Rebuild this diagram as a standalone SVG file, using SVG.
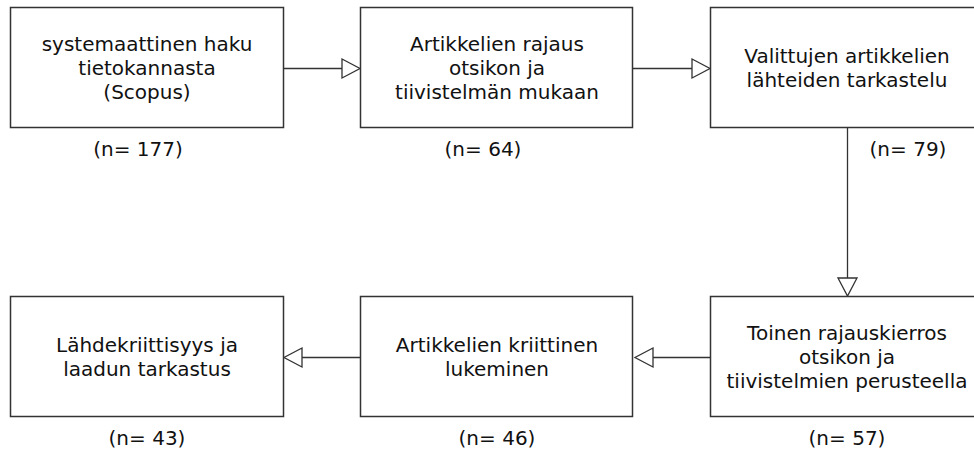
<svg xmlns="http://www.w3.org/2000/svg" width="974" height="450" viewBox="0 0 974 450">
<style>
.box{fill:#fff;stroke:#333;stroke-width:1.5}
.t{font-family:"DejaVu Sans",Verdana,sans-serif;font-size:20px;fill:#111;text-anchor:middle}
.edge{stroke:#333;stroke-width:1.3;fill:none}
.head{fill:#fff;stroke:#333;stroke-width:1.3}
</style>
<rect width="974" height="450" fill="#fff"/>
<g id="connectors">
<line class="edge" x1="283" y1="68.5" x2="342" y2="68.5"/>
<polygon class="head" points="342,59 360,68.5 342,78"/>
<line class="edge" x1="633" y1="68.5" x2="692" y2="68.5"/>
<polygon class="head" points="692,59 710,68.5 692,78"/>
<line class="edge" x1="847.5" y1="127" x2="847.5" y2="278"/>
<polygon class="head" points="838,278 847.5,296 857,278"/>
<line class="edge" x1="710" y1="357.5" x2="653" y2="357.5"/>
<polygon class="head" points="653,348 635,357.5 653,367"/>
<line class="edge" x1="360" y1="357.5" x2="302" y2="357.5"/>
<polygon class="head" points="302,348 284,357.5 302,367"/>
</g>
<g id="n1">
<rect class="box" x="10.5" y="7.5" width="273" height="120"/>
<text class="t" x="147" y="51">systemaattinen haku</text>
<text class="t" x="147" y="75">tietokannasta</text>
<text class="t" x="147" y="99">(Scopus)</text>
<text class="t" x="138" y="156">(n= 177)</text>
</g>
<g id="n2">
<rect class="box" x="360.5" y="7.5" width="272" height="120"/>
<text class="t" x="497" y="51">Artikkelien rajaus</text>
<text class="t" x="497" y="75">otsikon ja</text>
<text class="t" x="497" y="99">tiivistelmän mukaan</text>
<text class="t" x="483" y="156">(n= 64)</text>
</g>
<g id="n3">
<rect class="box" x="710.5" y="7.5" width="274" height="120"/>
<text class="t" x="847" y="63">Valittujen artikkelien</text>
<text class="t" x="847" y="87">lähteiden tarkastelu</text>
<text class="t" x="908" y="156">(n= 79)</text>
</g>
<g id="n4">
<rect class="box" x="710.5" y="296.5" width="274" height="120"/>
<text class="t" x="847" y="340">Toinen rajauskierros</text>
<text class="t" x="847" y="364">otsikon ja</text>
<text class="t" x="847" y="388">tiivistelmien perusteella</text>
<text class="t" x="847" y="445">(n= 57)</text>
</g>
<g id="n5">
<rect class="box" x="360.5" y="296.5" width="272" height="120"/>
<text class="t" x="497" y="352">Artikkelien kriittinen</text>
<text class="t" x="497" y="376">lukeminen</text>
<text class="t" x="497" y="445">(n= 46)</text>
</g>
<g id="n6">
<rect class="box" x="10.5" y="296.5" width="273" height="120"/>
<text class="t" x="147" y="352">Lähdekriittisyys ja</text>
<text class="t" x="147" y="376">laadun tarkastus</text>
<text class="t" x="147" y="445">(n= 43)</text>
</g>
</svg>
